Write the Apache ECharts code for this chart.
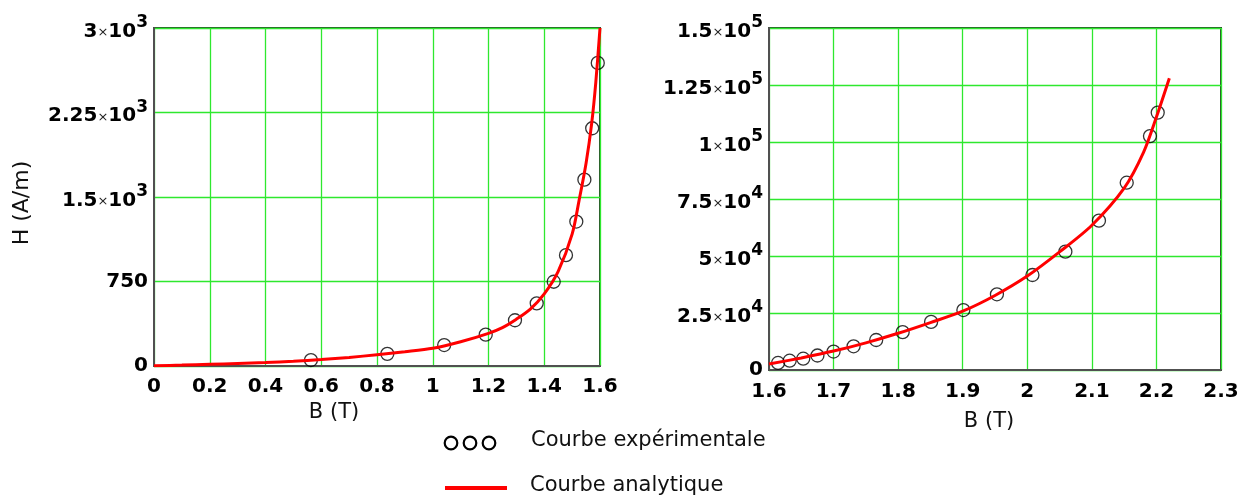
<!DOCTYPE html>
<html>
<head>
<meta charset="utf-8">
<script src="https://cdn.jsdelivr.net/npm/echarts@6/dist/echarts.min.js"></script>
<style>
html,body{margin:0;padding:0;background:#fff;}
#chart{width:1259px;height:497px;}
</style>
</head>
<body>
<div id="chart"></div>
<script>
// ---- Data ----
// Left panel: B from 0 to 1.6 T
const leftExpB = [0.563, 0.837, 1.041, 1.19, 1.295, 1.373, 1.434, 1.478, 1.515, 1.544, 1.572, 1.592];
const leftExpH = [53, 108, 186, 278, 406, 556, 748, 984, 1282, 1654, 2110, 2690];
const leftFitB = [0, 0.1, 0.2, 0.3, 0.4, 0.5, 0.6, 0.7, 0.8, 0.9, 1.0, 1.1, 1.2, 1.25, 1.3, 1.35, 1.4, 1.45, 1.5, 1.525, 1.55, 1.57, 1.585, 1.6];
const leftFitH = [2, 8, 15, 22, 30, 42, 57, 76, 100, 126, 157, 215, 290, 340, 415, 505, 640, 840, 1170, 1470, 1800, 2150, 2520, 3000];

// Right panel: B from 1.6 to 2.3 T
const rightExpB = [1.614, 1.632, 1.653, 1.675, 1.700, 1.731, 1.766, 1.807, 1.851, 1.901, 1.953, 2.008, 2.059, 2.111, 2.154, 2.190, 2.202];
const rightExpH = [3100, 4080, 4960, 6350, 8100, 10400, 13160, 16600, 21100, 26300, 33200, 41670, 51900, 65500, 82150, 102600, 112900];
const rightFitB = [1.6, 1.65, 1.7, 1.75, 1.8, 1.85, 1.9, 1.95, 2.0, 2.05, 2.1, 2.15, 2.18, 2.2, 2.22];
const rightFitH = [2600, 5300, 8300, 11900, 16100, 20800, 25800, 32700, 41200, 51800, 63500, 79800, 95500, 111000, 128000];

// Tick labels
const leftXLabels = ['0', '0.2', '0.4', '0.6', '0.8', '1', '1.2', '1.4', '1.6'];
const leftYLabels = ['0', '750', '1.5×10^3', '2.25×10^3', '3×10^3'];
const rightXLabels = ['1.6', '1.7', '1.8', '1.9', '2', '2.1', '2.2', '2.3'];
const rightYLabels = ['0', '2.5×10^4', '5×10^4', '7.5×10^4', '1×10^5', '1.25×10^5', '1.5×10^5'];

// Texts
const xTitle = 'B (T)';
const yTitle = 'H (A/m)';
const legendExp = 'Courbe expérimentale';
const legendFit = 'Courbe analytique';

// ---- Helpers ----
const FONT = 'DejaVu Sans, Verdana, sans-serif';
function pairs(xs, ys) { return xs.map((x, i) => [x, ys[i]]); }
function labelFrom(list, min, step) {
  return function (v) {
    const i = Math.round((v - min) / step);
    const s = list[i];
    if (s === undefined) return '';
    const k = s.indexOf('×10^');
    if (k < 0) return '{b|' + s + '}';
    return '{b|' + s.slice(0, k) + '}{x|×}{b|10}{s|' + s.slice(k + 4) + '}';
  };
}
const richLabel = {
  b: { fontFamily: FONT, fontWeight: 'bold', fontSize: 20, color: '#000', verticalAlign: 'bottom' },
  x: { fontFamily: FONT, fontWeight: 'normal', fontSize: 13, color: '#222', verticalAlign: 'bottom', padding: [0, 0, 2, 0] },
  s: { fontFamily: FONT, fontWeight: 'bold', fontSize: 17, color: '#000', verticalAlign: 'bottom', padding: [0, 0, 10, 0] }
};
const gridLine = { show: true, lineStyle: { color: '#2ee82e', width: 1.3 } };
const axisLineStyle = { show: true, onZero: false, lineStyle: { color: '#505050', width: 2 } };

function xAxis(gi, min, max, step, labels, margin) {
  return {
    type: 'value', gridIndex: gi, min: min, max: max, interval: step,
    axisLine: axisLineStyle, axisTick: { show: false },
    splitLine: gridLine,
    axisLabel: { margin: margin, formatter: labelFrom(labels, min, step), rich: richLabel, showMinLabel: true, showMaxLabel: true, hideOverlap: false }
  };
}
function yAxis(gi, min, max, step, labels) {
  return {
    type: 'value', gridIndex: gi, min: min, max: max, interval: step,
    axisLine: axisLineStyle, axisTick: { show: false },
    splitLine: gridLine,
    axisLabel: { margin: 6, formatter: labelFrom(labels, min, step), rich: richLabel, showMinLabel: true, showMaxLabel: true, hideOverlap: false }
  };
}
const scatterStyle = {
  type: 'scatter', symbol: 'circle', symbolSize: 13, z: 3,
  itemStyle: { color: 'rgba(0,0,0,0)', borderColor: '#000', borderWidth: 1.3 },
  emphasis: { disabled: true }
};
const lineStyleSeries = {
  type: 'line', showSymbol: false, symbol: 'none', smooth: 0.3, z: 4,
  lineStyle: { color: '#ff0000', width: 3 }, emphasis: { disabled: true }
};

const chart = echarts.init(document.getElementById('chart'), null, { renderer: 'canvas' });
chart.setOption({
  animation: false,
  backgroundColor: '#ffffff',
  grid: [
    { left: 154, top: 28, width: 446, height: 338, show: true, borderColor: '#2b4d2b', borderWidth: 2, backgroundColor: 'transparent' },
    { left: 769, top: 28, width: 452, height: 342, show: true, borderColor: '#2b4d2b', borderWidth: 2, backgroundColor: 'transparent' }
  ],
  xAxis: [
    xAxis(0, 0, 1.6, 0.2, leftXLabels, 11),
    xAxis(1, 1.6, 2.3, 0.1, rightXLabels, 12)
  ],
  yAxis: [
    yAxis(0, 0, 3000, 750, leftYLabels),
    yAxis(1, 0, 150000, 25000, rightYLabels)
  ],
  series: [
    Object.assign({}, scatterStyle, { name: legendExp, xAxisIndex: 0, yAxisIndex: 0, data: pairs(leftExpB, leftExpH) }),
    Object.assign({}, lineStyleSeries, { name: legendFit, xAxisIndex: 0, yAxisIndex: 0, data: pairs(leftFitB, leftFitH) }),
    Object.assign({}, scatterStyle, { name: legendExp, xAxisIndex: 1, yAxisIndex: 1, data: pairs(rightExpB, rightExpH) }),
    Object.assign({}, lineStyleSeries, { name: legendFit, xAxisIndex: 1, yAxisIndex: 1, data: pairs(rightFitB, rightFitH) })
  ],
  graphic: [
    { type: 'text', x: 22, y: 203, rotation: Math.PI / 2,
      style: { text: yTitle, font: '22px ' + FONT, fill: '#111', align: 'center', verticalAlign: 'middle' } },
    { type: 'text', x: 334, y: 413,
      style: { text: xTitle, font: '21px ' + FONT, fill: '#111', align: 'center', verticalAlign: 'middle' } },
    { type: 'text', x: 989, y: 422,
      style: { text: xTitle, font: '21px ' + FONT, fill: '#111', align: 'center', verticalAlign: 'middle' } },
    { type: 'circle', shape: { cx: 451, cy: 443, r: 6.3 }, style: { fill: 'none', stroke: '#000', lineWidth: 2.2 } },
    { type: 'circle', shape: { cx: 470, cy: 443, r: 6.3 }, style: { fill: 'none', stroke: '#000', lineWidth: 2.2 } },
    { type: 'circle', shape: { cx: 489, cy: 443, r: 6.3 }, style: { fill: 'none', stroke: '#000', lineWidth: 2.2 } },
    { type: 'text', x: 531, y: 441,
      style: { text: legendExp, font: '21px ' + FONT, fill: '#111', align: 'left', verticalAlign: 'middle' } },
    { type: 'line', shape: { x1: 445, y1: 488, x2: 507, y2: 488 }, style: { stroke: '#ff0000', lineWidth: 4 } },
    { type: 'text', x: 530, y: 486,
      style: { text: legendFit, font: '21px ' + FONT, fill: '#111', align: 'left', verticalAlign: 'middle' } }
  ]
});
</script>
</body>
</html>
